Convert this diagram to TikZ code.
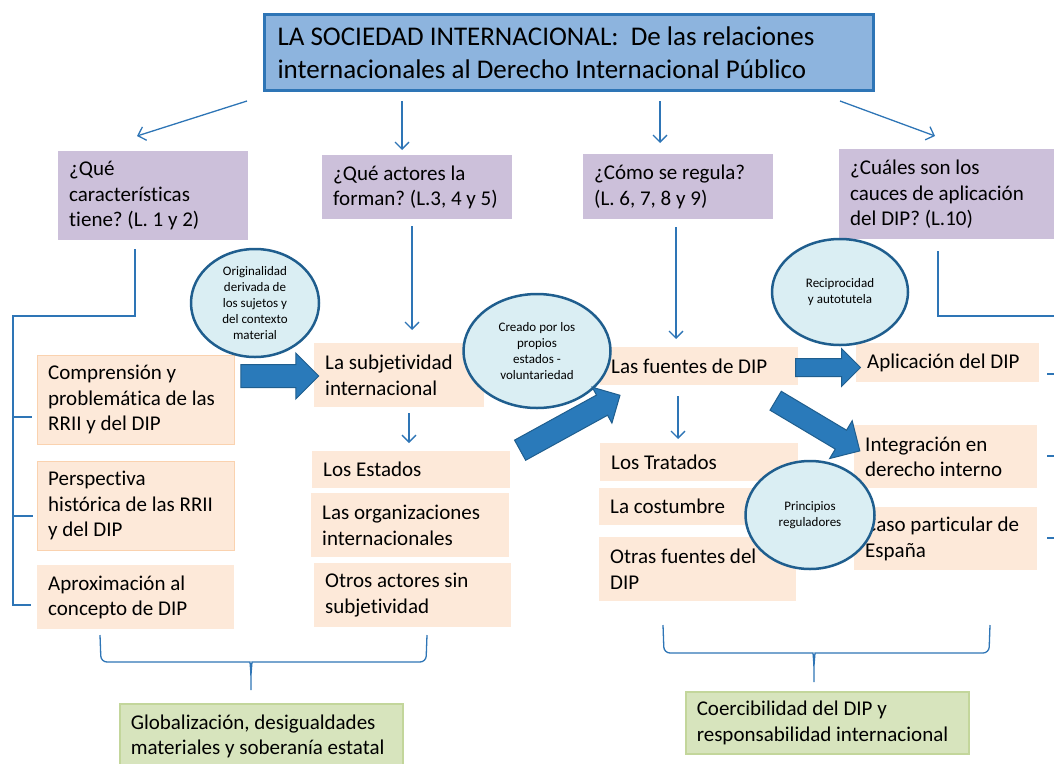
\documentclass[tikz,border=0pt]{standalone}
\usepackage{fontspec}
\setmainfont{Carlito}[Ligatures={TeX,NoCommon}]
\frenchspacing
\usetikzlibrary{shapes.geometric,shapes.arrows,arrows.meta}

\definecolor{titlefill}{RGB}{141,180,222}
\definecolor{titleline}{RGB}{46,117,182}
\definecolor{askfill}{RGB}{204,192,218}
\definecolor{topicfill}{RGB}{253,233,217}
\definecolor{topicline}{RGB}{250,210,175}
\definecolor{notefill}{RGB}{215,228,189}
\definecolor{noteline}{RGB}{195,214,155}
\definecolor{bubblefill}{RGB}{218,238,243}
\definecolor{bubbleline}{RGB}{31,94,142}
\definecolor{linkblue}{RGB}{46,117,182}
\definecolor{arrowfill}{RGB}{42,122,186}

\tikzset{
  title/.style={draw=titleline, line width=3pt, fill=titlefill, align=flush left,
    text width=583pt, inner xsep=13pt, minimum height=76pt,
    font=\fontsize{27}{33}\selectfont\frenchspacing},
  box/.style={anchor=north west, align=flush left, inner xsep=11pt, inner ysep=0pt,
    font=\fontsize{21}{25.5}\selectfont\frenchspacing},
  ask/.style={box, fill=askfill},
  topic/.style={box, fill=topicfill},
  note/.style={box, fill=notefill, draw=noteline, line width=1.5pt},
  bubble/.style={ellipse, draw=bubbleline, line width=2.5pt, fill=bubblefill,
    align=center, inner sep=0pt, font=\fontsize{13}{16}\selectfont},
  bigarrow/.style 2 args={single arrow, draw=bubbleline, fill=arrowfill, line width=1pt,
    inner xsep=0pt, inner ysep=#1, single arrow head extend=#2},
  link/.style={draw=linkblue, line width=1.3pt},
  tip/.style={link, -{Straight Barb[length=7pt,width=14pt]}}
}

\begin{document}
\begin{tikzpicture}[x=1pt,y=-1pt]
  \useasboundingbox (0,0) rectangle (1054,763);
  \clip (0,0) rectangle (1054,763);

  % title
  \node[title] (title) at (569,52.5) {LA SOCIEDAD INTERNACIONAL:~ De las relaciones\\internacionales al Derecho Internacional Público};

  % questions
  \node[ask, text width=168pt, minimum height=89pt] (q1) at (58,151) {¿Qué\\características\\tiene? (L. 1 y 2)};
  \node[ask, text width=168pt, minimum height=64pt] (q2) at (322,155) {¿Qué actores la\\forman? (L.3, 4 y 5)};
  \node[ask, text width=168pt, minimum height=65pt] (q3) at (583,154) {¿Cómo se regula?\\(L. 6, 7, 8 y 9)};
  \node[ask, text width=208pt, minimum height=90pt] (q4) at (839,149) {¿Cuáles son los\\cauces de aplicación\\del DIP? (L.10)};

  % first column
  \node[topic, draw=topicline, text width=175pt, minimum height=89pt] (compr) at (37,355) {Comprensión y\\problemática de las\\RRII y del DIP};
  \node[topic, draw=topicline, text width=175pt, minimum height=89pt] (persp) at (37,461) {Perspectiva\\histórica de las RRII\\y del DIP};
  \node[topic, text width=175pt, minimum height=64pt] (aprox) at (37,565) {Aproximación al\\concepto de DIP};

  % second column
  \node[topic, text width=148pt, minimum height=64pt] (subj) at (314,343) {La subjetividad\\internacional};
  \node[topic, text width=176pt, minimum height=37pt] (estados) at (312,451) {Los Estados};
  \node[topic, text width=176pt, minimum height=64pt] (orgs) at (311,493) {Las organizaciones\\internacionales};
  \node[topic, text width=175pt, minimum height=64pt] (otros) at (314,563) {Otros actores sin\\subjetividad};

  % third column
  \node[topic, text width=176pt, minimum height=38pt] (fuentes) at (600,347) {Las fuentes de DIP};
  \node[topic, text width=176pt, minimum height=38pt] (tratados) at (600,443) {Los Tratados};
  \node[topic, text width=176pt, minimum height=37pt] (costumbre) at (599,488) {La costumbre};
  \node[topic, text width=175pt, minimum height=64pt] (otras) at (599,537) {Otras fuentes del\\DIP};

  % fourth column
  \node[topic, text width=161pt, minimum height=39pt] (aplic) at (856,343) {Aplicación del DIP};
  \node[topic, text width=161pt, minimum height=63pt] (integ) at (854,425) {Integración en\\derecho interno};
  \node[topic, text width=161pt, minimum height=63pt] (espana) at (854,507) {Caso particular de\\España};

  % bottom notes
  \node[note, text width=261pt, minimum height=65pt] (glob) at (119,703) {Globalización, desigualdades\\materiales y soberanía estatal};
  \node[note, text width=261pt, minimum height=62pt] (coerc) at (685,691) {Coercibilidad del DIP y\\responsabilidad internacional};

  % thin arrows
  \coordinate (t1) at (247,101);
  \coordinate (t1e) at (137,136);
  \coordinate (t4) at (840,101);
  \coordinate (t4e) at (935,136);
  \draw[tip] (t1) -- (t1e);
  \draw[tip] (t4) -- (t4e);
  \draw[tip, shorten <=9pt, shorten >=5pt] (title.south -| 402,0) -- (q2.north -| 402,0);
  \draw[tip, shorten <=9pt, shorten >=11pt] (title.south -| 660,0) -- (q3.north -| 660,0);
  \draw[tip, shorten <=7pt, shorten >=13pt] (q2.south -| 412,0) -- (subj.north -| 412,0);
  \draw[tip, shorten <=6pt, shorten >=8pt] (subj.south -| 409,0) -- (estados.north -| 409,0);
  \draw[tip, shorten <=8pt, shorten >=8pt] (q3.south -| 676,0) -- (fuentes.north -| 676,0);
  \draw[tip, shorten <=11pt, shorten >=4pt] (fuentes.south -| 678,0) -- (tratados.north -| 678,0);

  % side brackets
  \draw[link, shorten <=9pt] (q1.south -| 135,0) |- (13,316) -- (13,605) -- (31,605);
  \draw[link] (13,417) -- (32,417);
  \draw[link] (13,516) -- (33,516);
  \draw[link, shorten <=12pt] (q4.south -| 938,0) |- (1060,316) -- (1060,540);
  \draw[link] (1047,374) -- (1060,374);
  \draw[link] (1047,456) -- (1060,456);
  \draw[link] (1047,538) -- (1060,538);

  % braces
  \draw[link, rounded corners=6pt] (100,635) -- (101,662) -- (244,662) .. controls (250,662) .. (251,674) -- (251,690);
  \draw[link, rounded corners=6pt] (427,635) -- (426,662) -- (258,662) .. controls (252,662) .. (251,674);
  \draw[link, rounded corners=6pt] (663,625) -- (664,653) -- (807,653) .. controls (813,653) .. (814,665) -- (814,682);
  \draw[link, rounded corners=6pt] (990,625) -- (989,653) -- (821,653) .. controls (815,653) .. (814,665);

  % bubbles
  \node[bubble, minimum width=128pt, minimum height=108pt] (b1) at (255,303) {Originalidad\\derivada de\\los sujetos y\\del contexto\\material};
  \node[bubble, minimum width=147pt, minimum height=114pt] (b2) at (537,351) {Creado por los\\propios\\estados -\\voluntariedad};
  \node[bubble, minimum width=136pt, minimum height=106pt] (b3) at (840,292) {Reciprocidad\\y autotutela};
  \node[bubble, minimum width=129pt, minimum height=108pt] (b4) at (810,515) {Principios\\reguladores};

  % block arrows
  \node[bigarrow={11pt}{11.5pt}, minimum height=78pt] (a1) at (274,376) {};
  \node[bigarrow={11pt}{9pt}, minimum height=114pt, rotate=28.8] (a2) at (565,425.5) {};
  \node[bigarrow={8.5pt}{10pt}, minimum height=65pt] (a3) at (823.5,367.5) {};
  \node[bigarrow={10.5pt}{11pt}, minimum height=98pt, rotate=-30.8] (a4) at (813,423) {};
\end{tikzpicture}
\end{document}
